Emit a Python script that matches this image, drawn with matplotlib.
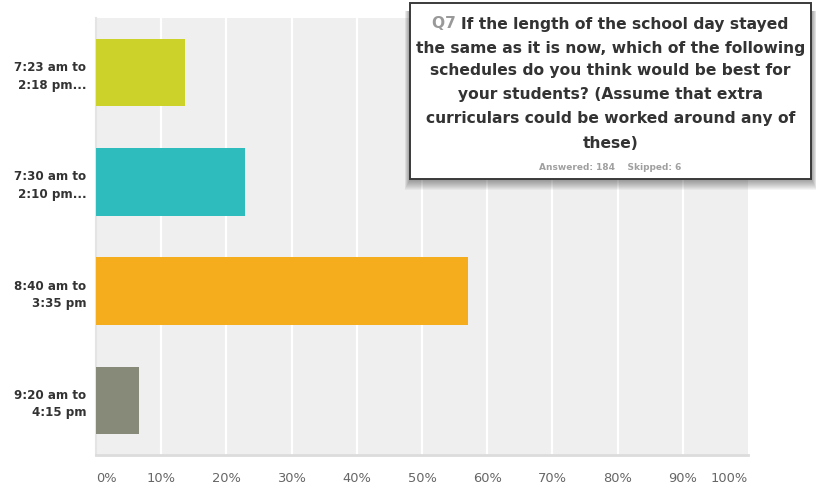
import numpy as np
import matplotlib
matplotlib.use("Agg")
import matplotlib.pyplot as plt
from matplotlib.patches import Rectangle

# Survey responses (share of respondents, %)
categories = ["7:23 am to\n2:18 pm...", "7:30 am to\n2:10 pm...", "8:40 am to\n3:35 pm", "9:20 am to\n4:15 pm"]
values = [13.59, 22.83, 57.07, 6.52]
colors = ["#ccd22a", "#2fbcbc", "#f5ad1d", "#878a78"]
tick_values = list(range(0, 101, 10))
tick_labels = [f"{v}%" for v in tick_values]
question_lines = [
    "If the length of the school day stayed",
    "the same as it is now, which of the following",
    "schedules do you think would be best for",
    "your students? (Assume that extra",
    "curriculars could be worked around any of",
    "these)",
]
question_id = "Q7"
answered, skipped = 184, 6

W, H = 816, 491
fig = plt.figure(figsize=(W / 100, H / 100), dpi=100)
fig.patch.set_facecolor("white")

def fx(px):
    return px / W

def fy(py):
    return 1 - py / H

# plot area
left, right, top, bottom = 96, 748, 18, 455
ax = fig.add_axes([fx(left), fy(bottom), fx(right - left), (bottom - top) / H])
ax.set_facecolor("#efefef")
ypos = np.arange(len(categories))
ax.barh(ypos, values, height=0.62, color=colors, edgecolor="none", zorder=3)
ax.set_xlim(0, 100)
ax.set_ylim(len(categories) - 0.5, -0.5)
for v in tick_values[1:-1]:
    ax.axvline(v, color="white", lw=1.6, zorder=1)
for s in ["top", "right"]:
    ax.spines[s].set_visible(False)
ax.spines["bottom"].set_color("#dcdcdc")
ax.spines["bottom"].set_linewidth(2.0)
ax.spines["left"].set_color("#e4e4e4")
ax.spines["left"].set_linewidth(1.5)
ax.tick_params(length=0)
ax.set_yticks(ypos)
ax.set_yticklabels(categories, fontsize=8.6, fontweight="bold", color="#333333",
                   family="DejaVu Sans", linespacing=1.45)
ax.tick_params(axis="y", pad=7)
ax.set_xticks([])

# x tick labels, end labels kept inside the plot area
label_y = -(478 - bottom) / (bottom - top)
for v, lab in zip(tick_values, tick_labels):
    ha = "center"
    if v == 0:
        ha = "left"
    elif v == 100:
        ha = "right"
    ax.text(v, label_y, lab, transform=ax.get_xaxis_transform(), ha=ha, va="center",
            fontsize=9.4, color="#666666", family="DejaVu Sans")

# question box with soft shadow underneath
bx0, bx1, by0, by1 = 410, 811, 3, 179
for i in range(11, 0, -1):
    fig.patches.append(Rectangle((fx(bx0 - i * 0.5), fy(by1 + i)),
                                 fx(bx1 - bx0 + i * 1.0), (by1 - by0 - 8 + i) / H,
                                 transform=fig.transFigure, facecolor="black",
                                 edgecolor="none", alpha=0.04, zorder=5))
fig.patches.append(Rectangle((fx(bx0), fy(by1)), fx(bx1 - bx0), (by1 - by0) / H,
                             transform=fig.transFigure, facecolor="white",
                             edgecolor="#3a3a3a", lw=1.4, zorder=6))

cx = (bx0 + bx1) / 2
line_y = [24, 48, 71, 95, 119, 143]
qfont = dict(fontsize=11.2, fontweight="bold", family="DejaVu Sans", zorder=7)
renderer = fig.canvas.get_renderer()
# first line: gray question id followed by dark text
probe = fig.text(fx(cx), fy(line_y[0]), question_id + " " + question_lines[0],
                 ha="center", va="center", **qfont)
x_start = probe.get_window_extent(renderer).x0 / W
probe.remove()
qid = fig.text(x_start, fy(line_y[0]), question_id + " ", ha="left", va="center",
               color="#999999", **qfont)
qext = qid.get_window_extent(renderer)
fig.text(qext.x1 / W, fy(line_y[0]), question_lines[0], ha="left", va="center",
         color="#333333", **qfont)
for y, line in zip(line_y[1:], question_lines[1:]):
    fig.text(fx(cx), fy(y), line, ha="center", va="center", color="#333333", **qfont)
fig.text(fx(cx), fy(168), f"Answered: {answered}    Skipped: {skipped}", ha="center",
         va="center", color="#a0a0a0", fontsize=6.5, fontweight="bold",
         family="DejaVu Sans", zorder=7)

fig.savefig("out.png", dpi=100)
